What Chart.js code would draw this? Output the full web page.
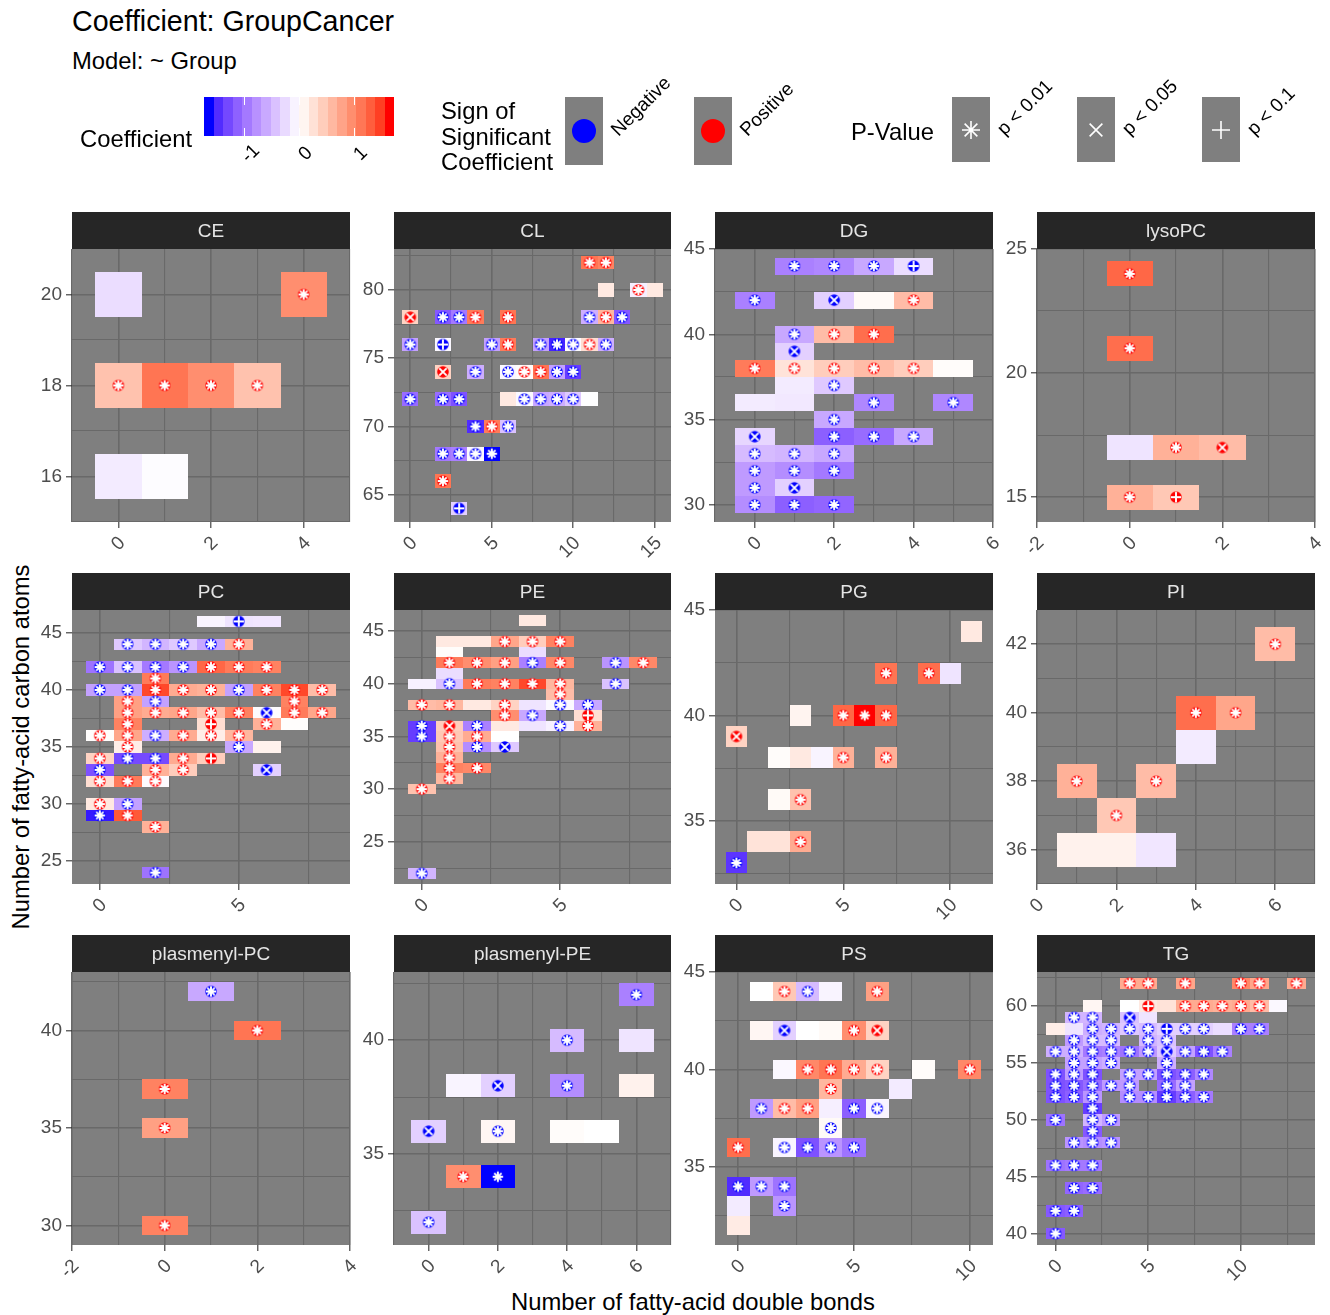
<!DOCTYPE html>
<html>
<head>
<meta charset="utf-8">
<script src="https://cdn.jsdelivr.net/npm/chart.js@4.4.1/dist/chart.umd.min.js"></script>
<style>
  html, body { margin: 0; padding: 0; background: #fff; }
  #page { position: relative; width: 1330px; height: 1315px; overflow: hidden;
          font-family: "Liberation Sans", Arial, Helvetica, sans-serif; color: #000; }
  .t { position: absolute; white-space: nowrap; }
  canvas { position: absolute; }
</style>
</head>
<body>
<div id="page"></div>
<script>
// Each lipid class: [double bonds, carbon atoms, coefficient, mark]
// mark: '' = not significant; first letter sign (n/p), second p-value class (* <0.01, x <0.05, + <0.1)
const CE = [
  [0,20,-0.25,''],[4,20,1.0,'p*'],
  [0,18,0.55,'p*'],[1,18,1.2,'p*'],[2,18,1.0,'p*'],[3,18,0.55,'p*'],
  [0,16,-0.15,''],[1,16,-0.02,'']
];
const CL = [
  [11,82,1.2,'p*'],[12,82,1.1,'p*'],
  [12,80,0.2,''],[14,80,-0.12,'p*'],[15,80,0.2,''],
  [0,78,0.4,'px'],[2,78,-1.25,'n*'],[3,78,-1.0,'n*'],[4,78,1.15,'p*'],[6,78,1.2,'p*'],[11,78,-0.6,'n*'],[12,78,0.65,'p*'],[13,78,-1.25,'n*'],
  [0,76,-0.7,'n*'],[2,76,-0.05,'n+'],[5,76,-0.7,'n*'],[6,76,1.15,'p*'],[8,76,-0.7,'n*'],[9,76,-1.6,'n*'],[10,76,-0.02,'n*'],[11,76,0.3,'p*'],[12,76,-0.6,'n*'],
  [2,74,0.4,'px'],[4,74,-0.6,'n*'],[6,74,-0.05,'n*'],[7,74,0.03,'p*'],[8,74,1.2,'p*'],[9,74,-0.7,'n*'],[10,74,-1.45,'n*'],
  [0,72,-1.1,'n*'],[2,72,-1.1,'n*'],[3,72,-1.3,'n*'],[6,72,0.2,''],[7,72,-0.05,'n*'],[8,72,-0.65,'n*'],[9,72,-0.6,'n*'],[10,72,-0.4,'n*'],[11,72,-0.01,''],
  [4,70,-1.55,'n*'],[5,70,1.15,'p*'],[6,70,-0.45,'n*'],
  [2,68,-1.0,'n*'],[3,68,-0.95,'n*'],[4,68,-0.05,'n*'],[5,68,-1.73,'n*'],
  [2,66,1.2,'p*'],
  [3,64,-0.35,'n+']
];
const DG = [
  [1,44,-0.95,'n*'],[2,44,-0.9,'n*'],[3,44,-0.65,'n*'],[4,44,-0.25,'n+'],
  [0,42,-0.95,'n*'],[2,42,-0.35,'nx'],[3,42,0.05,''],[4,42,0.6,'p*'],
  [1,40,-0.65,'n*'],[2,40,0.6,'p*'],[3,40,1.25,'p*'],
  [1,39,-0.35,'nx'],
  [0,38,1.15,'p*'],[1,38,0.25,'p*'],[2,38,0.45,'p*'],[3,38,0.6,'p*'],[4,38,0.45,'p*'],[5,38,0.03,''],
  [1,37,-0.15,''],[2,37,-0.4,'n*'],
  [0,36,-0.15,''],[1,36,-0.17,''],[3,36,-0.9,'n*'],[5,36,-0.9,'n*'],
  [2,35,-0.65,'n*'],
  [0,34,-0.3,'nx'],[2,34,-1.2,'n*'],[3,34,-1.1,'n*'],[4,34,-0.65,'n*'],
  [0,33,-0.5,'n*'],[1,33,-0.55,'n*'],[2,33,-0.65,'n*'],
  [0,32,-0.75,'n*'],[1,32,-0.85,'n*'],[2,32,-1.0,'n*'],
  [0,31,-0.75,'n*'],[1,31,-0.35,'nx'],
  [0,30,-0.85,'n*'],[1,30,-1.2,'n*'],[2,30,-1.15,'n*']
];
const lysoPC = [
  [0,24,1.3,'p*'],[0,21,1.25,'p*'],
  [0,17,-0.2,''],[1,17,0.7,'p*'],[2,17,0.6,'px'],
  [0,15,0.7,'p*'],[1,15,0.5,'p+']
];
const PC = [
  [4,46,-0.08,''],[5,46,-0.2,'n+'],[6,46,-0.18,''],
  [1,44,-0.4,'n*'],[2,44,-0.55,'n*'],[3,44,-0.4,'n*'],[4,44,-0.65,'n*'],[5,44,0.7,'p*'],
  [0,42,-1.05,'n*'],[1,42,-0.45,'n*'],[2,42,-1.0,'n*'],[3,42,-0.8,'n*'],[4,42,1.3,'p*'],[5,42,1.15,'p*'],[6,42,1.1,'p*'],
  [2,41,1.15,'p*'],
  [0,40,-0.7,'n*'],[1,40,-0.7,'n*'],[2,40,1.5,'p*'],[3,40,0.75,'p*'],[4,40,0.7,'p*'],[5,40,-0.7,'n*'],[6,40,1.1,'p*'],[7,40,1.5,'p*'],[8,40,0.6,'p*'],
  [1,39,0.85,'p*'],[2,39,-0.7,'n*'],[7,39,1.1,'p*'],
  [1,38,0.85,'p*'],[2,38,0.75,'p*'],[3,38,0.8,'p*'],[4,38,0.6,'p*'],[5,38,1.1,'p*'],[6,38,-0.02,'nx'],[7,38,1.15,'p*'],[8,38,0.8,'p*'],
  [1,37,1.1,'p*'],[4,37,0.3,'p+'],[6,37,0.7,'p*'],[7,37,0.02,''],
  [0,36,0.02,'p*'],[1,36,0.8,'p*'],[2,36,-0.6,'n*'],[3,36,0.75,'p*'],[4,36,0.15,'p*'],[5,36,0.65,'p*'],
  [1,35,0.15,'p*'],[5,35,-0.65,'n*'],[6,35,0.12,''],
  [0,34,0.4,'p*'],[1,34,-1.35,'n*'],[2,34,-1.35,'n*'],[3,34,0.75,'p*'],[4,34,0.45,'p+'],
  [0,33,-1.3,'n*'],[2,33,0.7,'p*'],[3,33,0.45,'p*'],[6,33,-0.35,'nx'],
  [0,32,0.3,'p*'],[1,32,1.15,'p*'],[2,32,-0.03,'p*'],
  [0,30,0.2,'p*'],[1,30,-0.7,'n*'],
  [0,29,-1.65,'n*'],[1,29,1.4,'p*'],
  [2,28,0.7,'p*'],
  [2,24,-1.05,'n*']
];
const PE = [
  [4,46,0.2,''],
  [1,44,0.2,''],[2,44,0.2,''],[3,44,0.8,'p*'],[4,44,0.45,'p*'],[5,44,1.1,'p*'],
  [1,43,0.03,''],[4,43,-0.25,''],
  [1,42,1.15,'p*'],[2,42,1.0,'p*'],[3,42,0.85,'p*'],[4,42,-0.95,'n*'],[5,42,1.05,'p*'],[7,42,-0.8,'n*'],[8,42,1.05,'p*'],
  [1,41,-0.25,''],
  [0,40,-0.1,''],[1,40,-0.45,'n*'],[2,40,1.15,'p*'],[3,40,1.1,'p*'],[4,40,1.5,'p*'],[5,40,0.65,'p*'],[7,40,-0.45,'n*'],
  [5,39,0.6,'p*'],
  [0,38,0.6,'p*'],[1,38,0.65,'p*'],[2,38,0.2,''],[3,38,0.4,'p*'],[4,38,-0.2,''],[5,38,-0.05,'n*'],[6,38,-0.65,'n*'],
  [3,37,1.0,'p*'],[4,37,-0.65,'n*'],[6,37,0.3,'p+'],
  [0,36,-1.45,'n*'],[1,36,0.45,'px'],[2,36,-0.95,'n*'],[3,36,0.2,''],[4,36,-0.2,''],[5,36,-0.1,'n*'],[6,36,0.7,'p*'],
  [0,35,-1.45,'n*'],[1,35,0.5,'p*'],[2,35,0.75,'p*'],[3,35,0.0,''],
  [1,34,0.55,'p*'],[2,34,-0.85,'n*'],[3,34,-0.4,'nx'],
  [1,33,0.7,'p*'],
  [1,32,1.1,'p*'],[2,32,1.05,'p*'],
  [1,31,0.65,'p*'],
  [0,30,0.55,'p*'],
  [0,22,-0.55,'n*']
];
const PG = [
  [11,44,0.2,''],
  [7,42,1.2,'p*'],[9,42,1.25,'p*'],[10,42,-0.2,''],
  [3,40,0.1,''],[5,40,1.3,'p*'],[6,40,1.73,'p*'],[7,40,1.3,'p*'],
  [0,39,0.4,'px'],
  [2,38,0.03,''],[3,38,0.2,''],[4,38,-0.08,''],[5,38,0.7,'p*'],[7,38,0.7,'p*'],
  [2,36,0.05,''],[3,36,0.55,'p*'],
  [1,34,0.25,''],[2,34,0.25,''],[3,34,0.75,'p*'],
  [0,33,-1.5,'n*']
];
const PI = [
  [6,42,0.6,'p*'],
  [4,40,1.25,'p*'],[5,40,0.8,'p*'],
  [4,39,-0.15,''],
  [1,38,0.7,'p*'],[3,38,0.6,'p*'],
  [2,37,0.5,'p*'],
  [1,36,0.12,''],[2,36,0.12,''],[3,36,-0.18,'']
];
const plasmenylPC = [
  [1,42,-0.65,'n*'],[2,40,1.2,'p*'],[0,37,1.1,'p*'],[0,35,0.85,'p*'],[0,30,1.1,'p*']
];
const plasmenylPE = [
  [6,42,-0.95,'n*'],
  [4,40,-0.5,'n*'],[6,40,-0.2,''],
  [1,38,-0.08,''],[2,38,-0.35,'nx'],[4,38,-0.85,'n*'],[6,38,0.12,''],
  [0,36,-0.35,'nx'],[2,36,0.08,'n*'],[4,36,0.03,''],[5,36,0.0,''],
  [1,34,1.0,'p*'],[2,34,-1.73,'n*'],
  [0,32,-0.45,'n*']
];
const PS = [
  [1,44,0.0,''],[2,44,0.5,'p*'],[3,44,-0.5,'n*'],[4,44,-0.08,''],[6,44,0.85,'p*'],
  [1,42,0.08,''],[2,42,-0.35,'nx'],[3,42,0.0,''],[4,42,0.05,''],[5,42,1.0,'p*'],[6,42,0.4,'px'],
  [2,40,-0.05,''],[3,40,1.05,'p*'],[4,40,1.2,'p*'],[5,40,0.75,'p*'],[6,40,0.4,'p*'],[8,40,0.03,''],[10,40,1.05,'p*'],
  [4,39,0.65,'p*'],[7,39,-0.15,''],
  [1,38,-0.75,'n*'],[2,38,0.6,'p*'],[3,38,0.85,'p*'],[4,38,-0.12,''],[5,38,-1.2,'n*'],[6,38,-0.08,'n*'],
  [4,37,0.05,'n*'],
  [0,36,1.25,'p*'],[2,36,-0.08,'n*'],[3,36,-1.3,'n*'],[4,36,-0.8,'n*'],[5,36,-1.05,'n*'],
  [0,34,-1.55,'n*'],[1,34,-0.75,'n*'],[2,34,-1.05,'n*'],
  [0,33,-0.15,''],[2,33,-0.8,'n*'],
  [0,32,0.18,'']
];
const TG = [
  [4,62,0.75,'p*'],[5,62,0.75,'p*'],[7,62,0.8,'p*'],[10,62,1.05,'p*'],[11,62,0.8,'p*'],[13,62,0.75,'p*'],
  [2,60,0.08,''],[4,60,0.0,''],[5,60,0.2,'p+'],[6,60,0.25,''],[7,60,0.75,'p*'],[8,60,0.75,'p*'],[9,60,0.7,'p*'],[10,60,0.75,'p*'],[11,60,0.6,'p*'],[12,60,-0.05,''],
  [1,59,-0.55,'n*'],[2,59,-0.55,'n*'],[4,59,-0.45,'nx'],[5,59,-0.2,''],
  [0,58,0.15,''],[1,58,-0.2,''],[2,58,-0.6,'n*'],[3,58,-0.55,'n*'],[4,58,-0.4,'n*'],[5,58,-0.48,'n*'],[6,58,-0.35,'n+'],[7,58,-0.35,'n*'],[8,58,-0.35,'n*'],[9,58,-0.25,''],[10,58,-0.95,'n*'],[11,58,-0.95,'n*'],
  [1,57,-0.75,'n*'],[2,57,-0.5,'n*'],[3,57,-0.5,'n*'],[5,57,-0.55,'n*'],[6,57,-0.45,'n*'],
  [0,56,-0.6,'n*'],[1,56,-0.6,'n*'],[2,56,-1.0,'n*'],[3,56,-0.95,'n*'],[4,56,-1.05,'n*'],[5,56,-0.75,'n*'],[6,56,-0.4,'nx'],[7,56,-0.7,'n*'],[8,56,-1.3,'n*'],[9,56,-0.95,'n*'],
  [1,55,-0.7,'n*'],[2,55,-0.7,'n*'],[3,55,-0.6,'n*'],[6,55,-0.6,'n*'],
  [0,54,-1.3,'n*'],[1,54,-0.75,'n*'],[2,54,-1.3,'n*'],[4,54,-0.7,'n*'],[5,54,-0.7,'n*'],[6,54,-1.3,'n*'],[7,54,-1.2,'n*'],[8,54,-0.9,'n*'],
  [0,53,-1.3,'n*'],[1,53,-1.25,'n*'],[2,53,-1.1,'n*'],[3,53,-0.75,'n*'],[4,53,-0.75,'n*'],[6,53,-1.1,'n*'],[7,53,-0.7,'n*'],
  [0,52,-1.3,'n*'],[1,52,-1.2,'n*'],[2,52,-0.8,'n*'],[4,52,-0.85,'n*'],[5,52,-0.85,'n*'],[6,52,-1.45,'n*'],[7,52,-1.2,'n*'],[8,52,-1.0,'n*'],
  [2,51,-1.45,'n*'],
  [0,50,-1.05,'n*'],[2,50,-0.55,'n*'],[3,50,-0.75,'n*'],
  [2,49,-1.25,'n*'],
  [1,48,-0.8,'n*'],[2,48,-0.85,'n*'],[3,48,-0.8,'n*'],
  [0,46,-1.05,'n*'],[1,46,-1.0,'n*'],[2,46,-1.0,'n*'],
  [1,44,-1.15,'n*'],[2,44,-1.1,'n*'],
  [0,42,-1.25,'n*'],[1,42,-1.2,'n*'],
  [0,40,-1.25,'n*']
];

// Facet order, axis limits and labelled breaks
const PANEL_NAMES = ['CE','CL','DG','lysoPC','PC','PE','PG','PI','plasmenyl-PC','plasmenyl-PE','PS','TG'];
const PANEL_DATA  = [CE, CL, DG, lysoPC, PC, PE, PG, PI, plasmenylPC, plasmenylPE, PS, TG];
const X_LIMITS = [[-1,5],[-1,16],[-1,6],[-2,4],[-1,9],[-1,9],[-1,12],[0,7],[-2,4],[-1,7],[-1,11],[-1,14]];
const Y_LIMITS = [[15,21],[63,83],[29,45],[14,25],[23,47],[21,47],[32,45],[35,43],[29,43],[31,43],[31,45],[39,63]];
const X_BREAKS = [[0,2,4],[0,5,10,15],[0,2,4,6],[-2,0,2,4],[0,5],[0,5],[0,5,10],[0,2,4,6],[-2,0,2,4],[0,2,4,6],[0,5,10],[0,5,10]];
const Y_BREAKS = [[16,18,20],[65,70,75,80],[30,35,40,45],[15,20,25],[25,30,35,40,45],[25,30,35,40,45],[35,40,45],[36,38,40,42],[30,35,40],[35,40],[35,40,45],[40,45,50,55,60]];
const COLORBAR_BREAKS = [-1, 0, 1];

const FONT = '"Liberation Sans", Arial, Helvetica, sans-serif';
const page = document.getElementById('page');

// ---------- colour scale: blue - white - red, interpolated in CIELAB ----------
function toLin(c) { c /= 255; return c <= 0.04045 ? c / 12.92 : Math.pow((c + 0.055) / 1.055, 2.4); }
function toSrgb(v) { v = Math.min(1, Math.max(0, v)); const s = v <= 0.0031308 ? 12.92 * v : 1.055 * Math.pow(v, 1 / 2.4) - 0.055; return Math.round(s * 255); }
function rgbToLab(rgb) {
  const R = toLin(rgb[0]), G = toLin(rgb[1]), B = toLin(rgb[2]);
  const X = (0.4124 * R + 0.3576 * G + 0.1805 * B) / 0.95047;
  const Y = 0.2126 * R + 0.7152 * G + 0.0722 * B;
  const Z = (0.0193 * R + 0.1192 * G + 0.9505 * B) / 1.08883;
  const f = t => t > 0.008856 ? Math.cbrt(t) : 7.787 * t + 16 / 116;
  const fx = f(X), fy = f(Y), fz = f(Z);
  return [116 * fy - 16, 500 * (fx - fy), 200 * (fy - fz)];
}
function labToCss(lab) {
  const fy = (lab[0] + 16) / 116, fx = fy + lab[1] / 500, fz = fy - lab[2] / 200;
  const fi = t => t * t * t > 0.008856 ? t * t * t : (t - 16 / 116) / 7.787;
  const X = fi(fx) * 0.95047, Y = fi(fy), Z = fi(fz) * 1.08883;
  const R = 3.2406 * X - 1.5372 * Y - 0.4986 * Z;
  const G = -0.9689 * X + 1.8758 * Y + 0.0415 * Z;
  const B = 0.0557 * X - 0.2040 * Y + 1.0570 * Z;
  return `rgb(${toSrgb(R)},${toSrgb(G)},${toSrgb(B)})`;
}
const LAB_LOW = rgbToLab([0, 0, 255]), LAB_MID = rgbToLab([255, 255, 255]), LAB_HIGH = rgbToLab([255, 0, 0]);
const allCoef = PANEL_DATA.flat().map(r => r[2]);
const COEF_MIN = Math.min(...allCoef), COEF_MAX = Math.max(...allCoef);
const COEF_ABS = Math.max(Math.abs(COEF_MIN), Math.abs(COEF_MAX));
function fillFor(v) {
  const t = 0.5 + v / (2 * COEF_ABS);
  let a, b, f;
  if (t < 0.5) { a = LAB_MID; b = LAB_LOW; f = (0.5 - t) * 2; }
  else { a = LAB_MID; b = LAB_HIGH; f = (t - 0.5) * 2; }
  return labToCss([0, 1, 2].map(i => a[i] + (b[i] - a[i]) * f));
}

// ---------- marker glyphs ----------
function drawGlyph(ctx, cx, cy, kind, sign, r, arm, lw) {
  if (sign) {
    ctx.fillStyle = sign === 'n' ? '#0000FF' : '#FF0000';
    ctx.beginPath(); ctx.arc(cx, cy, r, 0, Math.PI * 2); ctx.fill();
  }
  ctx.strokeStyle = '#FFFFFF'; ctx.lineWidth = lw; ctx.lineCap = 'butt';
  const angles = kind === '*' ? [0, 45, 90, 135] : kind === 'x' ? [45, 135] : [0, 90];
  ctx.beginPath();
  for (const a of angles) {
    const rad = a * Math.PI / 180, dx = Math.cos(rad) * arm, dy = Math.sin(rad) * arm;
    ctx.moveTo(cx - dx, cy - dy); ctx.lineTo(cx + dx, cy + dy);
  }
  ctx.stroke();
}
const GLYPHS = {};
for (const s of ['n', 'p']) for (const k of ['*', 'x', '+']) {
  const c = document.createElement('canvas'); c.width = 14; c.height = 14;
  drawGlyph(c.getContext('2d'), 7, 7, k, s, 5.8, 5.2, 1.9);
  GLYPHS[s + k] = c;
}

// ---------- page text helpers ----------
function addText(str, x, cy, size, extra) {
  const d = document.createElement('div');
  d.className = 't'; d.textContent = str;
  const lh = Math.round(size * 1.2);
  d.style.fontSize = size + 'px'; d.style.lineHeight = lh + 'px';
  d.style.left = x + 'px'; d.style.top = (cy - lh / 2) + 'px';
  Object.assign(d.style, extra || {});
  page.appendChild(d);
  return d;
}
function addRotatedLeft(str, x, cy, size) {
  return addText(str, x, cy, size, { transformOrigin: '0 50%', transform: 'rotate(-45deg)' });
}
function addCentered(str, cx, cy, size, angle, extra) {
  const d = document.createElement('div');
  d.className = 't'; d.textContent = str;
  d.style.fontSize = size + 'px'; d.style.lineHeight = Math.round(size * 1.2) + 'px';
  d.style.left = cx + 'px'; d.style.top = cy + 'px';
  d.style.transform = `translate(-50%,-50%) rotate(${angle}deg)`;
  Object.assign(d.style, extra || {});
  page.appendChild(d);
  return d;
}

// ---------- titles ----------
addText('Coefficient: GroupCancer', 72, 21, 28.6);
addText('Model: ~ Group', 72, 60, 23.8);
addCentered('Number of fatty-acid carbon atoms', 20, 747, 23.8, -90);
addCentered('Number of fatty-acid double bonds', 693, 1301, 23.8, 0);

// ---------- legends ----------
const lg = document.createElement('canvas');
lg.width = 1330; lg.height = 110; lg.style.left = '0px'; lg.style.top = '80px';
page.appendChild(lg);
{
  const ctx = lg.getContext('2d');
  const OY = 80;
  // colour bar
  const bx = 204, bw = 190, by = 97 - OY, bh = 39, nbin = 20;
  for (let i = 0; i < nbin; i++) {
    const v = COEF_MIN + (COEF_MAX - COEF_MIN) * i / (nbin - 1);
    ctx.fillStyle = fillFor(v);
    const x0 = Math.round(bx + bw * i / nbin), x1 = Math.round(bx + bw * (i + 1) / nbin);
    ctx.fillRect(x0, by, x1 - x0, bh);
  }
  ctx.strokeStyle = '#FFFFFF'; ctx.lineWidth = 1;
  for (const v of COLORBAR_BREAKS) {
    const x = Math.round(bx + (v - COEF_MIN) / (COEF_MAX - COEF_MIN) * bw) + 0.5;
    ctx.beginPath();
    ctx.moveTo(x, by); ctx.lineTo(x, by + 8);
    ctx.moveTo(x, by + bh - 8); ctx.lineTo(x, by + bh);
    ctx.stroke();
    addCentered(String(v), x + 5, 153, 19, -45);
  }
  // sign keys
  const keyFill = '#7F7F7F';
  [[565, 'n'], [694, 'p']].forEach(([kx, s]) => {
    ctx.fillStyle = keyFill; ctx.fillRect(kx, 97 - OY, 38, 68);
    ctx.fillStyle = s === 'n' ? '#0000FF' : '#FF0000';
    ctx.beginPath(); ctx.arc(kx + 19, 131 - OY, 12, 0, Math.PI * 2); ctx.fill();
  });
  // p-value keys
  [[952, '*'], [1077, 'x'], [1202, '+']].forEach(([kx, k]) => {
    ctx.fillStyle = keyFill; ctx.fillRect(kx, 97 - OY, 38, 65);
    drawGlyph(ctx, kx + 19, 130 - OY, k, null, 0, 9, 1.6);
  });
}
addText('Coefficient', 80, 138, 23.8);
addText('Sign of', 441, 110, 23.8);
addText('Significant', 441, 136, 23.8);
addText('Coefficient', 441, 161, 23.8);
addRotatedLeft('Negative', 614, 132, 19);
addRotatedLeft('Positive', 743, 132, 19);
addText('P-Value', 851, 131, 23.8);
addRotatedLeft('p < 0.01', 1000, 131, 19);
addRotatedLeft('p < 0.05', 1125, 131, 19);
addRotatedLeft('p < 0.1', 1250, 131, 19);

// ---------- facet panels ----------
const COL_LEFT = [72, 394, 715, 1037], COL_W = [278, 277, 278, 278];
const STRIP_TOP = [212, 573, 935], PANEL_H = [273, 274, 273];
const STRIP = 37, LEFT = 72, RIGHT = 14, BOTTOM = 55;

const panelBackground = {
  id: 'panelBackground',
  beforeDraw(chart) {
    const { ctx, chartArea: a } = chart;
    ctx.save(); ctx.fillStyle = '#7F7F7F';
    ctx.fillRect(a.left, a.top, a.right - a.left, a.bottom - a.top);
    ctx.restore();
  }
};
const tiles = {
  id: 'tiles',
  beforeDatasetsDraw(chart) {
    const { ctx, scales: { x, y } } = chart;
    ctx.save();
    for (const p of chart.data.datasets[0].data) {
      const x0 = Math.round(x.getPixelForValue(p.x - 0.5)), x1 = Math.round(x.getPixelForValue(p.x + 0.5));
      const y0 = Math.round(y.getPixelForValue(p.y + 0.5)), y1 = Math.round(y.getPixelForValue(p.y - 0.5));
      ctx.fillStyle = fillFor(p.c);
      ctx.fillRect(x0, y0, x1 - x0, y1 - y0);
    }
    ctx.restore();
  }
};
const strip = {
  id: 'strip',
  afterDraw(chart, args, opts) {
    const { ctx, chartArea: a } = chart;
    ctx.save();
    ctx.fillStyle = '#262626';
    ctx.fillRect(a.left, a.top - STRIP, a.right - a.left, STRIP);
    ctx.fillStyle = '#E5E5E5';
    ctx.font = `19px ${FONT}`; ctx.textAlign = 'center'; ctx.textBaseline = 'middle';
    ctx.fillText(opts.text, (a.left + a.right) / 2, a.top - STRIP / 2 + 1);
    ctx.restore();
  }
};

function minorOf(major, lim) {
  const step = major.length > 1 ? major[1] - major[0] : 5;
  const out = major.map(b => b - step / 2).concat([major[major.length - 1] + step / 2]);
  return out.filter(v => v >= lim[0] - 1e-9 && v <= lim[1] + 1e-9);
}
function axisOptions(lim, major, isX) {
  const minor = minorOf(major, lim);
  const all = major.filter(v => v >= lim[0] - 1e-9 && v <= lim[1] + 1e-9).concat(minor).sort((a, b) => a - b);
  const isMajor = v => major.some(m => Math.abs(m - v) < 1e-9);
  return {
    type: 'linear', min: lim[0], max: lim[1],
    afterBuildTicks: ax => { ax.ticks = all.map(v => ({ value: v })); },
    afterFit: ax => {
      if (isX) ax.height = BOTTOM; else ax.width = LEFT;
      ax.paddingLeft = ax.paddingRight = ax.paddingTop = ax.paddingBottom = 0;
    },
    border: { display: false },
    grid: {
      color: '#696969',
      lineWidth: c => (c.tick && isMajor(c.tick.value)) ? 1.6 : 1.1,
      drawTicks: true, tickLength: 6, tickWidth: 1.1,
      tickColor: c => (c.tick && isMajor(c.tick.value)) ? '#333333' : 'rgba(0,0,0,0)'
    },
    ticks: {
      autoSkip: false, color: '#4D4D4D', font: { family: FONT, size: 19 },
      padding: isX ? 4 : 4,
      labelOffset: isX ? 4 : 0,
      minRotation: isX ? 45 : 0, maxRotation: isX ? 45 : 0,
      callback: v => isMajor(v) ? String(v) : ''
    }
  };
}

PANEL_NAMES.forEach((name, i) => {
  const col = i % 4, row = Math.floor(i / 4);
  const pw = COL_W[col], ph = PANEL_H[row];
  const cv = document.createElement('canvas');
  cv.width = LEFT + pw + RIGHT; cv.height = STRIP + ph + BOTTOM;
  cv.style.width = cv.width + 'px'; cv.style.height = cv.height + 'px';
  cv.style.left = (COL_LEFT[col] - LEFT) + 'px'; cv.style.top = STRIP_TOP[row] + 'px';
  page.appendChild(cv);
  new Chart(cv, {
    type: 'scatter',
    data: {
      datasets: [{
        data: PANEL_DATA[i].map(r => ({ x: r[0], y: r[1], c: r[2], m: r[3] })),
        pointStyle: c => (c.raw && c.raw.m) ? GLYPHS[c.raw.m] : 'circle',
        pointRadius: c => (c.raw && c.raw.m) ? 6 : 0,
        pointHoverRadius: c => (c.raw && c.raw.m) ? 6 : 0,
        clip: false
      }]
    },
    options: {
      responsive: false, animation: false, devicePixelRatio: 1, events: [],
      layout: { padding: { top: STRIP, right: RIGHT, left: 0, bottom: 0 } },
      scales: {
        x: axisOptions(X_LIMITS[i], X_BREAKS[i], true),
        y: axisOptions(Y_LIMITS[i], Y_BREAKS[i], false)
      },
      plugins: { legend: { display: false }, tooltip: { enabled: false }, strip: { text: name } }
    },
    plugins: [panelBackground, tiles, strip]
  });
});
</script>
</body>
</html>
